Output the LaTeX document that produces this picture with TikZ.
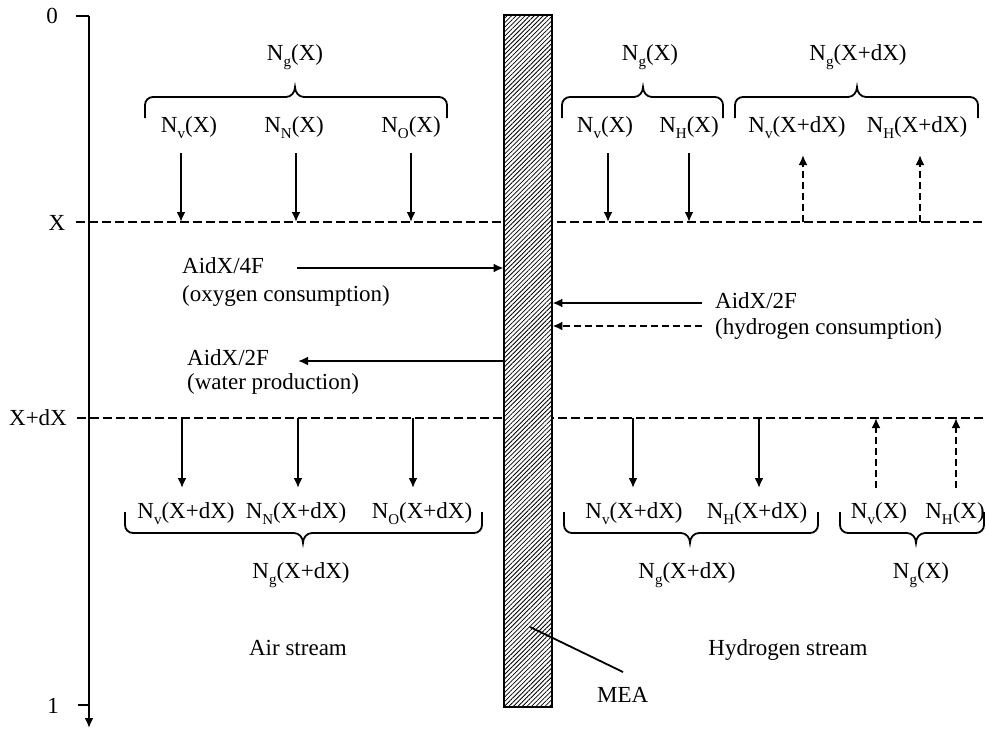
\documentclass[tikz,border=0pt]{standalone}
\usepackage{fontspec}
\setmainfont{Liberation Serif}
\usetikzlibrary{arrows.meta,patterns.meta}

\newcommand{\Nsub}[1]{N\raisebox{-0.3em}{\fontsize{15}{15}\selectfont #1}}
% brace: x left, x tip, x right, y of bar, side (+1 ends below, -1 ends above)
\newcommand{\grpbrace}[5]{%
  \pgfmathsetmacro{\bA}{90*#5}\pgfmathsetmacro{\bB}{-90*#5}%
  \draw[brc] (#1,{#4+21*#5}) -- (#1,{#4+8*#5}) to[out=\bA,in=180] ({#1+8},#4)
    -- ({#2-9},#4) to[out=0,in=\bB] (#2,{#4-10*#5}) to[out=\bB,in=180] ({#2+9},#4)
    -- ({#3-8},#4) to[out=0,in=\bA] (#3,{#4+8*#5}) -- (#3,{#4+21*#5});}

\tikzset{
  lbl/.style={anchor=base, inner sep=0pt, font=\fontsize{23}{26}\selectfont},
  lblw/.style={lbl, anchor=base west},
  flow/.style={line width=2pt, -{Latex[length=10pt,width=9pt]}},
  dflow/.style={flow, dash pattern=on 7pt off 4pt},
  gline/.style={line width=2pt, dash pattern=on 9pt off 4pt},
  brc/.style={line width=1.8pt},
  mea/.style={draw, line width=2pt, minimum width=48pt, minimum height=692pt,
    inner sep=0pt, preaction={fill=white},
    pattern={Lines[angle=45,distance=3.2pt,line width=0.8pt]}}
}

\begin{document}
\begin{tikzpicture}[x=1pt,y=-1pt]
  \useasboundingbox (0,0) rectangle (986,731);
  % position axis
  \coordinate (top) at (89,16);
  \coordinate (bot) at (89,728);
  \draw[line width=2pt] (76,16) -- (top);
  \draw[flow] (top) -- (bot);
  \draw[line width=2pt] (78,705) -- (89,705);
  \node[lbl] (zero) at (52,23) {0};
  \node[lbl] (xlab) at (57,230) {X};
  \node[lbl] (xdxlab) at (38,425) {X+dX};
  \node[lbl] (one) at (53,713) {1};
  % slice boundaries
  \coordinate (lineX) at (986,222);
  \coordinate (lineXdX) at (986,418);
  \draw[gline] (76,222) -- (lineX);
  \draw[gline] (77,418) -- (lineXdX);
  % membrane
  \node[mea] (mea) at (528,361) {};
  \coordinate (meain) at (530,627);
  \coordinate (meaend) at (623,672);
  \draw[line width=1.8pt] (meain) -- (meaend);
  \node[lblw] (mealab) at (597,702) {MEA};

  % air side, inlet
  \node[lbl] (ngA) at (295,60) {\Nsub{g}(X)};
  \grpbrace{145}{295}{447}{97}{1}
  \node[lbl] (nvA) at (189,132) {\Nsub{v}(X)};
  \node[lbl] (nnA) at (294,132) {\Nsub{N}(X)};
  \node[lbl] (noA) at (411,132) {\Nsub{O}(X)};
  \coordinate (a1) at (181,153);
  \coordinate (a2) at (296,153);
  \coordinate (a3) at (411,153);
  \draw[flow] (a1) -- (a1 |- lineX);
  \draw[flow] (a2) -- (a2 |- lineX);
  \draw[flow] (a3) -- (a3 |- lineX);

  % hydrogen side, top
  \node[lbl] (ngB) at (650,60) {\Nsub{g}(X)};
  \grpbrace{562}{643}{723}{97}{1}
  \node[lbl] (nvB) at (605,132) {\Nsub{v}(X)};
  \node[lbl] (nhB) at (689,132) {\Nsub{H}(X)};
  \node[lbl] (ngC) at (858,60) {\Nsub{g}(X+dX)};
  \grpbrace{735}{857}{978}{97}{1}
  \node[lbl] (nvC) at (797,132) {\Nsub{v}(X+dX)};
  \node[lbl] (nhC) at (917,132) {\Nsub{H}(X+dX)};
  \coordinate (b1) at (608,153);
  \coordinate (b2) at (689,153);
  \coordinate (c1) at (803,155);
  \coordinate (c2) at (920,155);
  \draw[flow] (b1) -- (b1 |- lineX);
  \draw[flow] (b2) -- (b2 |- lineX);
  \draw[dflow] (c1 |- lineX) -- (c1);
  \draw[dflow] (c2 |- lineX) -- (c2);

  % reactions at the membrane
  \node[lblw] (o4F) at (182,273) {AidX/4F};
  \node[lblw] (oxy) at (182,301) {(oxygen consumption)};
  \node[lblw] (w2F) at (187,365) {AidX/2F};
  \node[lblw] (wat) at (187,389) {(water production)};
  \node[lblw] (h2F) at (715,308) {AidX/2F};
  \node[lblw] (hyd) at (715,334) {(hydrogen consumption)};
  \coordinate (o4s) at (297,268);
  \coordinate (w2e) at (298,361);
  \coordinate (h2s) at (702,303);
  \coordinate (hds) at (702,326);
  \draw[flow] (o4s) -- (o4s -| mea.west);
  \draw[flow] (w2e -| mea.west) -- (w2e);
  \draw[flow] (h2s) -- (h2s -| mea.east);
  \draw[dflow] (hds) -- (hds -| mea.east);

  % air side, outlet
  \coordinate (d1) at (182,488);
  \coordinate (d2) at (298,488);
  \coordinate (d3) at (413,488);
  \draw[flow] (d1 |- lineXdX) -- (d1);
  \draw[flow] (d2 |- lineXdX) -- (d2);
  \draw[flow] (d3 |- lineXdX) -- (d3);
  \node[lbl] (nvD) at (186,518) {\Nsub{v}(X+dX)};
  \node[lbl] (nnD) at (296,518) {\Nsub{N}(X+dX)};
  \node[lbl] (noD) at (422,518) {\Nsub{O}(X+dX)};
  \grpbrace{125}{303}{482}{533}{-1}
  \node[lbl] (ngD) at (301,578) {\Nsub{g}(X+dX)};

  % hydrogen side, bottom
  \coordinate (e1) at (633,488);
  \coordinate (e2) at (759,488);
  \coordinate (f1) at (876,488);
  \coordinate (f2) at (956,488);
  \draw[flow] (e1 |- lineXdX) -- (e1);
  \draw[flow] (e2 |- lineXdX) -- (e2);
  \draw[dflow] (f1) -- (f1 |- lineXdX);
  \draw[dflow] (f2) -- (f2 |- lineXdX);
  \node[lbl] (nvE) at (634,518) {\Nsub{v}(X+dX)};
  \node[lbl] (nhE) at (757,518) {\Nsub{H}(X+dX)};
  \grpbrace{564}{690}{818}{533}{-1}
  \node[lbl] (ngE) at (687,578) {\Nsub{g}(X+dX)};
  \node[lbl] (nvF) at (879,518) {\Nsub{v}(X)};
  \node[lbl] (nhF) at (955,518) {\Nsub{H}(X)};
  \grpbrace{840}{916}{984}{533}{-1}
  \node[lbl] (ngF) at (921,578) {\Nsub{g}(X)};

  \node[lbl] (air) at (298,655) {Air stream};
  \node[lbl] (hstream) at (788,655) {Hydrogen stream};
\end{tikzpicture}
\end{document}
